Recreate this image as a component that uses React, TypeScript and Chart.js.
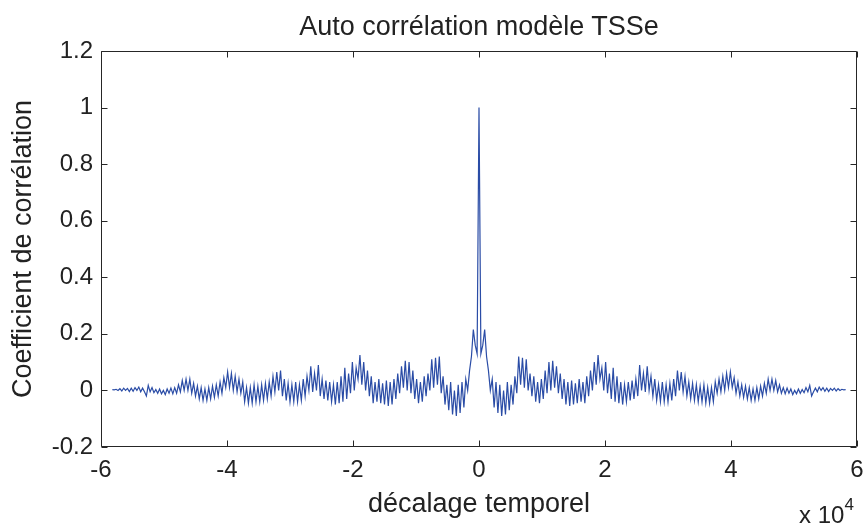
import React, { useEffect, useRef } from "react";
import { Chart, registerables } from "chart.js";

Chart.register(...registerables);

const TITLE = "Auto corrélation modèle TSSe";
const X_LABEL = "décalage temporel";
const Y_LABEL = "Coefficient de corrélation";
const X_EXPONENT_BASE = "x 10";
const X_EXPONENT = "4";

// Axis limits / ticks (x in raw lag units, shown ×10^4)
const X_MIN = -60000;
const X_MAX = 60000;
const X_STEP = 20000;
const X_SCALE = 10000;
const Y_MIN = -0.2;
const Y_MAX = 1.2;
const Y_STEP = 0.2;

// Lag spacing of the read samples
const LAG_STEP = 300;

// Autocorrelation for lags 0, 300, 600, ... (right half).
// Autocorrelation is even, so the left half is the same curve mirrored.
const acfRight = [
  1.0, 0.13, 0.16, 0.215, 0.12, 0.07, 0.0, 0.04, -0.06, 0.03,
  -0.08, 0.02, -0.09, 0.0, -0.085, 0.03, -0.07, 0.02, -0.05, 0.05,
  -0.01, 0.12, 0.02, 0.115, 0.01, 0.11, 0.0, 0.06, -0.02, 0.05,
  -0.04, 0.03, -0.045, 0.04, -0.03, 0.07, -0.01, 0.1, 0.0, 0.105,
  0.01, 0.085, -0.01, 0.06, -0.03, 0.04, -0.05, 0.03, -0.055, 0.035,
  -0.05, 0.025, -0.045, 0.04, -0.04, 0.03, -0.045, 0.05, -0.02, 0.07,
  0.0, 0.1, 0.02, 0.125, 0.04, 0.08, 0.0, 0.1, -0.01, 0.06,
  -0.03, 0.08, -0.04, 0.05, -0.045, 0.03, -0.05, 0.02, -0.04, 0.03,
  -0.035, 0.035, -0.03, 0.04, -0.02, 0.09, 0.0, 0.06, -0.005, 0.085,
  0.0, 0.05, -0.02, 0.04, -0.035, 0.02, -0.04, 0.03, -0.04, 0.02,
  -0.04, 0.025, -0.035, 0.04, -0.02, 0.07, 0.0, 0.065, -0.005, 0.05,
  -0.02, 0.03, -0.03, 0.025, -0.035, 0.02, -0.04, 0.015, -0.04, 0.02,
  -0.045, 0.01, -0.045, 0.01, -0.04, 0.03, -0.01, 0.04, -0.005, 0.05,
  0.0, 0.06, 0.01, 0.065, 0.01, 0.045, -0.01, 0.03, -0.02, 0.02,
  -0.025, 0.015, -0.03, 0.01, -0.035, 0.005, -0.035, 0.01, -0.03, 0.015,
  -0.02, 0.025, -0.01, 0.04, 0.0, 0.04, 0.0, 0.035, -0.005, 0.02,
  -0.01, 0.01, -0.012, 0.008, -0.01, 0.005, -0.015, 0.0, -0.012, 0.005,
  -0.01, 0.003, -0.008, 0.01, -0.005, 0.018, -0.02, -0.005, 0.008, -0.005,
  0.012, 0.0, 0.01, -0.003, 0.008, -0.004, 0.007, 0.0, 0.008, -0.002,
  0.006, 0.0, 0.004, 0.002, 0.003,
];

const FONT = "'Liberation Sans', Arial, Helvetica, sans-serif";
const TEXT_COLOR = "#222222";
const LINE_COLOR = "#2a4ca6";
const FRAME_COLOR = "#262626";

const framePlugin = {
  id: "matlabFrame",
  afterDraw(chart: any) {
    const { ctx, chartArea: a, scales } = chart;
    const xs = scales.x;
    const ys = scales.y;
    const L = Math.round(a.left) + 0.5;
    const R = Math.round(a.right) - 0.5;
    const T = Math.round(a.top) + 0.5;
    const B = Math.round(a.bottom) - 0.5;
    const len = 6;
    ctx.save();
    ctx.strokeStyle = FRAME_COLOR;
    ctx.lineWidth = 1;
    ctx.beginPath();
    ctx.rect(L, T, R - L, B - T);
    xs.ticks.forEach((t: any) => {
      const px = Math.round(xs.getPixelForValue(t.value)) + 0.5;
      ctx.moveTo(px, B);
      ctx.lineTo(px, B - len);
      ctx.moveTo(px, T);
      ctx.lineTo(px, T + len);
    });
    ys.ticks.forEach((t: any) => {
      const py = Math.round(ys.getPixelForValue(t.value)) + 0.5;
      ctx.moveTo(L, py);
      ctx.lineTo(L + len, py);
      ctx.moveTo(R, py);
      ctx.lineTo(R - len, py);
    });
    ctx.stroke();
    ctx.restore();
  },
};

export default function App() {
  const ref = useRef<HTMLCanvasElement>(null);

  useEffect(() => {
    if (!ref.current) return;
    const points: { x: number; y: number }[] = [];
    for (let i = acfRight.length - 1; i >= 1; i--) {
      points.push({ x: -i * LAG_STEP, y: acfRight[i] });
    }
    for (let i = 0; i < acfRight.length; i++) {
      points.push({ x: i * LAG_STEP, y: acfRight[i] });
    }

    const chart = new Chart(ref.current, {
      type: "line",
      data: {
        datasets: [
          {
            data: points,
            borderColor: LINE_COLOR,
            borderWidth: 1.2,
            pointRadius: 0,
            tension: 0,
            fill: false,
          },
        ],
      },
      options: {
        responsive: false,
        animation: false,
        events: [],
        layout: { padding: { left: 0, right: 11, top: 51, bottom: 0 } },
        plugins: {
          legend: { display: false },
          tooltip: { enabled: false },
          title: { display: false },
        },
        scales: {
          x: {
            type: "linear",
            min: X_MIN,
            max: X_MAX,
            grid: { display: false, drawTicks: false },
            border: { display: false },
            ticks: {
              stepSize: X_STEP,
              autoSkip: false,
              maxRotation: 0,
              padding: 9,
              color: TEXT_COLOR,
              font: { family: FONT, size: 24 },
              callback: (v: any) => String(Math.round(Number(v) / X_SCALE)),
            },
            title: {
              display: true,
              text: X_LABEL,
              color: TEXT_COLOR,
              font: { family: FONT, size: 27 },
              padding: { top: 0, bottom: 7 },
            },
            afterFit: (s: any) => {
              s.height = 81;
              s.paddingLeft = 0;
              s.paddingRight = 0;
            },
          },
          y: {
            type: "linear",
            min: Y_MIN,
            max: Y_MAX,
            grid: { display: false, drawTicks: false },
            border: { display: false },
            ticks: {
              stepSize: Y_STEP,
              padding: 8,
              color: TEXT_COLOR,
              font: { family: FONT, size: 24 },
              callback: (v: any) => String(parseFloat(Number(v).toFixed(1))),
            },
            title: {
              display: true,
              text: Y_LABEL,
              color: TEXT_COLOR,
              font: { family: FONT, size: 27 },
              padding: { top: 7, bottom: 0 },
            },
            afterFit: (s: any) => {
              s.width = 101;
              s.paddingTop = 0;
              s.paddingBottom = 0;
            },
          },
        },
      },
      plugins: [framePlugin],
    } as any);
    return () => chart.destroy();
  }, []);

  return (
    <div
      style={{
        position: "absolute",
        left: 0,
        top: 0,
        width: 868,
        height: 528,
        background: "#ffffff",
        fontFamily: FONT,
        color: TEXT_COLOR,
        overflow: "hidden",
      }}
    >
      <canvas ref={ref} width={868} height={528} style={{ display: "block" }} />
      <div
        style={{
          position: "absolute",
          left: 101,
          width: 756,
          top: 10,
          lineHeight: "32px",
          fontSize: 27,
          textAlign: "center",
          whiteSpace: "nowrap",
        }}
      >
        {TITLE}
      </div>
      <div
        style={{
          position: "absolute",
          left: 799,
          top: 501,
          fontSize: 24,
          lineHeight: "28px",
          whiteSpace: "nowrap",
        }}
      >
        {X_EXPONENT_BASE}
        <span style={{ fontSize: 17, position: "relative", top: -13 }}>{X_EXPONENT}</span>
      </div>
    </div>
  );
}
